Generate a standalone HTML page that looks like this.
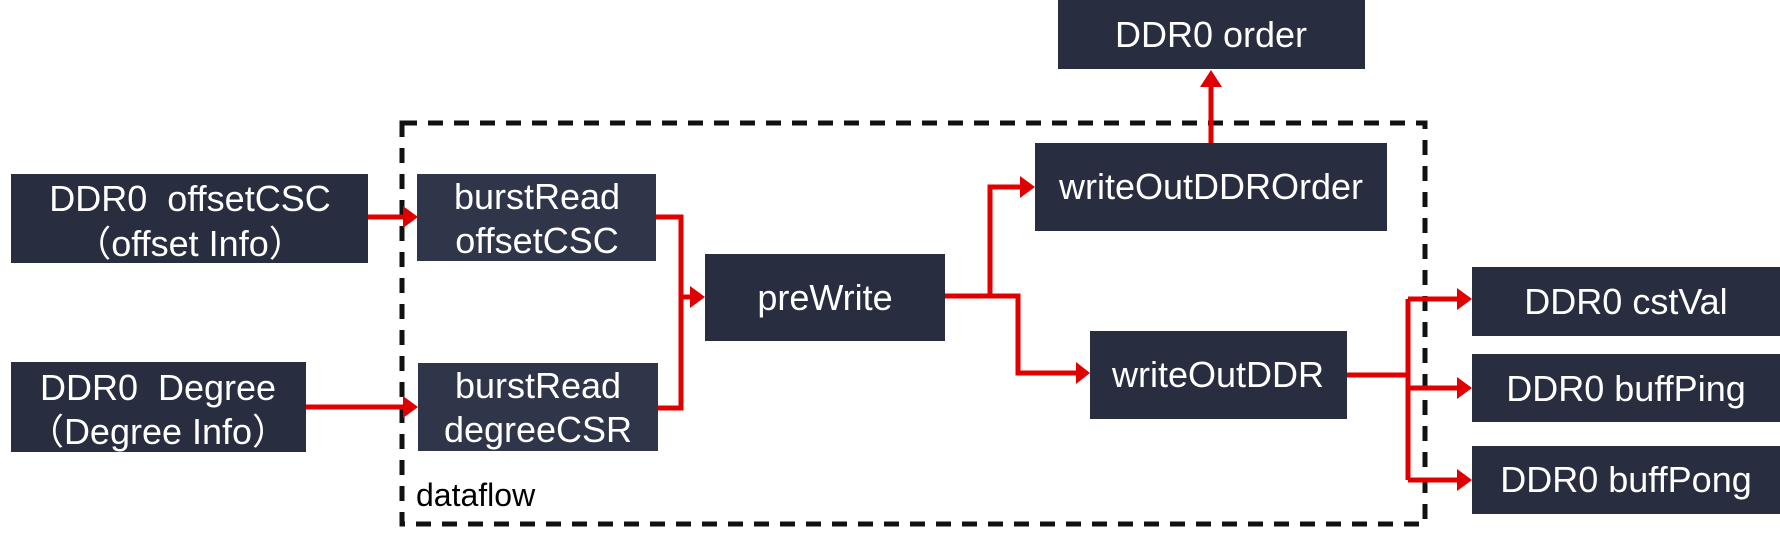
<!DOCTYPE html>
<html><head><meta charset="utf-8"><style>
html,body{margin:0;padding:0;background:#fff;}
svg{display:block}
text{font-family:"Liberation Sans","Noto Sans CJK SC",sans-serif;font-size:36px;fill:#fff;text-anchor:middle;white-space:pre;}
</style></head><body>
<svg width="1780" height="539" viewBox="0 0 1780 539" xmlns="http://www.w3.org/2000/svg" xml:space="preserve">
<rect x="402" y="123" width="1023" height="401" fill="none" stroke="#111" stroke-width="5" stroke-dasharray="15 11"/>
<text x="416" y="506" style="fill:#000;text-anchor:start;font-size:32px">dataflow</text>
<g fill="#282d3f">
<rect x="11" y="174" width="357" height="89"/>
<rect x="11" y="362" width="295" height="90"/>
<rect x="705" y="254" width="240" height="87"/>
<rect x="1058" y="0" width="307" height="69"/>
<rect x="1035" y="143" width="352" height="88"/>
<rect x="1090" y="331" width="257" height="88"/>
<rect x="1472" y="267" width="308" height="69"/>
<rect x="1472" y="354" width="308" height="68"/>
<rect x="1472" y="446" width="308" height="68"/>
</g>
<g fill="#30364a">
<rect x="417" y="174" width="239" height="87"/>
<rect x="418" y="363" width="240" height="88"/>
</g>
<g stroke="#e00000" stroke-width="5" fill="none">
<path d="M368 217 H405"/>
<path d="M306 407 H405"/>
<path d="M656 217 H681 V408 H658"/>
<path d="M681 297 H692"/>
<path d="M945 296 H1018 V373 H1077"/>
<path d="M990 296 V187 H1022"/>
<path d="M1211 143 V85"/>
<path d="M1347 375 H1408"/>
<path d="M1408 299 V480"/>
<path d="M1408 299 H1459 M1408 388 H1459 M1408 480 H1459"/>
</g>
<g fill="#e00000">
<polygon points="403,206 418,217 403,228"/>
<polygon points="403,396 418,407 403,418"/>
<polygon points="690,286 705,297 690,308"/>
<polygon points="1020,176 1035,187 1020,198"/>
<polygon points="1076,362 1090,373 1076,384"/>
<polygon points="1200,87 1211,70 1222,87"/>
<polygon points="1457,288 1472,299 1457,310"/>
<polygon points="1457,377 1472,388 1457,399"/>
<polygon points="1457,469 1472,480 1457,491"/>
</g>
<text x="190" y="211">DDR0  offsetCSC</text>
<text x="190" y="256">（offset Info）</text>
<text x="158" y="400">DDR0  Degree</text>
<text x="158" y="444">（Degree Info）</text>
<text x="537" y="209">burstRead</text>
<text x="537" y="253">offsetCSC</text>
<text x="538" y="398">burstRead</text>
<text x="538" y="442">degreeCSR</text>
<text x="825" y="310">preWrite</text>
<text x="1211" y="47">DDR0 order</text>
<text x="1211" y="199">writeOutDDROrder</text>
<text x="1218" y="387">writeOutDDR</text>
<text x="1626" y="314">DDR0 cstVal</text>
<text x="1626" y="401">DDR0 buffPing</text>
<text x="1626" y="492">DDR0 buffPong</text>
</svg>
</body></html>
